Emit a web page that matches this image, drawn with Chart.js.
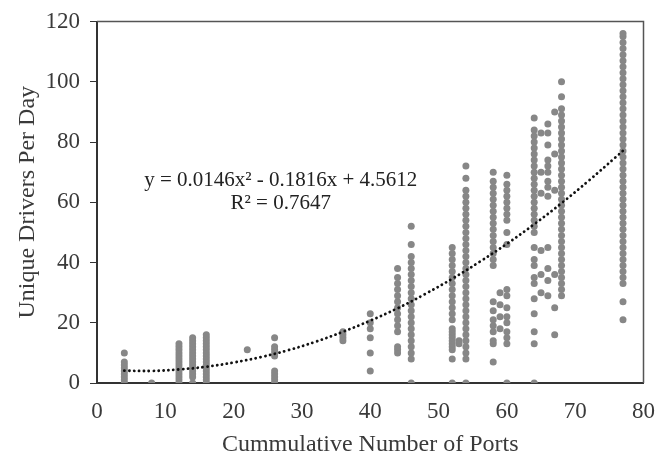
<!DOCTYPE html>
<html>
<head>
<meta charset="utf-8">
<script src="https://cdn.jsdelivr.net/npm/chart.js@4.4.1/dist/chart.umd.min.js"></script>
<style>
  html, body { margin: 0; padding: 0; background: #fff; }
  #wrap { width: 662px; height: 457px; }
</style>
</head>
<body>
<div id="wrap"><canvas id="ports"></canvas></div>
<script>
// observations per cumulative port count (unique drivers per day)
const ports4 = [0, 1, 2, 3, 4, 5, 6, 7, 10];
const ports8 = [0];
const ports12 = [0, 1, 2, 3, 4, 5, 6, 7, 8, 9, 10, 11, 12, 13];
const ports14 = [0, 2, 3, 4, 5, 6, 7, 8, 9, 10, 11, 12, 13, 14, 15];
const ports16 = [0, 1, 2, 3, 4, 5, 6, 7, 8, 9, 10, 11, 12, 13, 14, 15, 16];
const ports22 = [11];
const ports26 = [0, 1, 2, 3, 4, 9, 10, 11, 12, 15];
const ports36 = [14, 15, 16, 17];
const ports40 = [4, 10, 15, 18, 20, 23];
const ports44 = [10, 11, 12, 17, 19, 21, 23, 25, 27, 29, 31, 33, 35, 38];
const ports46 = [0, 8, 10, 12, 14, 16, 18, 20, 22, 24, 26, 28, 30, 32, 34, 36, 38, 40, 42, 46, 52];
const ports52 = [0, 8, 11, 12, 13, 14, 15, 16, 17, 18, 21, 23, 25, 27, 29, 31, 33, 35, 37, 39, 41, 43, 45];
const ports53 = [13, 14];
const ports54 = [0, 8, 10, 12, 14, 16, 18, 20, 22, 24, 26, 28, 30, 32, 34, 36, 38, 40, 42, 44, 46, 48, 50, 52, 54, 56, 58, 60, 62, 64, 68, 72];
const ports58 = [7, 13, 14, 17, 19, 21, 24, 27, 39, 41, 43, 45, 47, 49, 51, 53, 55, 57, 59, 61, 63, 65, 67, 70];
const ports59 = [18, 22, 26, 30];
const ports60 = [0, 13, 15, 17, 20, 22, 25, 29, 31, 46, 50, 54, 56, 58, 60, 62, 64, 66, 69];
const ports64 = [0, 13, 17, 23, 28, 33, 35, 39, 41, 45, 50, 52, 54, 56, 58, 60, 62, 64, 66, 68, 70, 72, 74, 76, 78, 80, 82, 84, 88];
const ports65 = [30, 36, 44, 63, 70, 83];
const ports66 = [29, 34, 38, 45, 62, 65, 67, 70, 72, 74, 79, 83, 86];
const ports67 = [16, 25, 36, 64, 76, 90];
const ports68 = [29, 31, 33, 35, 37, 39, 41, 43, 45, 47, 49, 51, 53, 55, 57, 59, 61, 63, 65, 67, 69, 71, 73, 75, 77, 79, 81, 83, 85, 87, 89, 91, 95, 100];
const ports77 = [21, 27, 33, 35, 37, 39, 41, 43, 45, 47, 49, 51, 53, 55, 57, 59, 61, 63, 65, 67, 69, 71, 73, 75, 77, 79, 81, 83, 85, 87, 89, 91, 93, 95, 97, 99, 101, 103, 105, 107, 109, 111, 113, 115, 116];

const portColumns = [
  [4, ports4], [8, ports8], [12, ports12], [14, ports14], [16, ports16],
  [22, ports22], [26, ports26], [36, ports36], [40, ports40], [44, ports44],
  [46, ports46], [52, ports52], [53, ports53], [54, ports54], [58, ports58],
  [59, ports59], [60, ports60], [64, ports64], [65, ports65], [66, ports66],
  [67, ports67], [68, ports68], [77, ports77]
];

// dotted trend curve
const trendX = [4, 8, 12, 16, 20, 24, 28, 32, 36, 40, 44, 48, 52, 56, 60, 64, 68, 72, 76, 77];
const trendY = [4.1, 4.0, 4.5, 5.4, 6.8, 8.6, 10.9, 13.7, 17.0, 20.7, 24.8, 29.5, 34.6, 40.2, 46.2, 52.7, 59.7, 67.2, 75.1, 77.1];

const xTicks = [0, 10, 20, 30, 40, 50, 60, 70, 80];
const yTicks = [0, 20, 40, 60, 80, 100, 120];

const eqLine = 'y = 0.0146x\u00B2 - 0.1816x + 4.5612';
const r2Line = 'R\u00B2 = 0.7647';

const serif = '"Liberation Serif", "DejaVu Serif", serif';
const inkColor = '#3a3a3a';

const points = [];
portColumns.forEach(col => col[1].forEach(v => points.push({ x: col[0], y: v })));
const trend = trendX.map((x, i) => ({ x: x, y: trendY[i] }));

const frame = {
  id: 'frame',
  afterDatasetsDraw(chart) {
    const a = chart.chartArea;
    const ctx = chart.ctx;
    ctx.save();
    ctx.strokeStyle = '#555';
    ctx.lineWidth = 1.5;
    ctx.beginPath();
    ctx.moveTo(a.left, a.top);
    ctx.lineTo(a.right, a.top);
    ctx.lineTo(a.right, a.bottom);
    ctx.stroke();
    // equation label
    const sx = chart.scales.x, sy = chart.scales.y;
    ctx.fillStyle = '#222';
    ctx.font = '21px ' + serif;
    ctx.textAlign = 'center';
    ctx.textBaseline = 'middle';
    ctx.fillText(eqLine, sx.getPixelForValue(26.9), sy.getPixelForValue(67.2));
    ctx.fillText(r2Line, sx.getPixelForValue(26.9), sy.getPixelForValue(59.6));
    ctx.restore();
  }
};

new Chart(document.getElementById('ports'), {
  type: 'scatter',
  data: {
    datasets: [
      {
        label: 'trend',
        data: trend,
        showLine: true,
        borderColor: '#111',
        borderWidth: 2.8,
        borderDash: [0.1, 4.8],
        borderCapStyle: 'round',
        pointRadius: 0,
        tension: 0.4,
        order: 0
      },
      {
        label: 'drivers',
        data: points,
        backgroundColor: '#878787',
        borderWidth: 0,
        pointRadius: 3.5,
        order: 1
      }
    ]
  },
  options: {
    responsive: true,
    maintainAspectRatio: false,
    animation: false,
    layout: { padding: { left: 12, right: 14, top: 20, bottom: 0 } },
    plugins: {
      legend: { display: false },
      tooltip: { enabled: false }
    },
    scales: {
      x: {
        type: 'linear',
        min: 0,
        max: 80,
        afterBuildTicks: s => { s.ticks = xTicks.map(v => ({ value: v })); },
        afterFit: s => { s.height = 74; },
        grid: { display: true, drawOnChartArea: false, tickLength: 8, tickColor: 'rgba(0,0,0,0)' },
        border: { color: '#333', width: 2 },
        ticks: { color: inkColor, font: { family: serif, size: 23 }, padding: 7, maxRotation: 0 },
        title: { display: true, text: 'Cummulative Number of Ports', color: inkColor, font: { family: serif, size: 24, lineHeight: 1 }, padding: { top: 2, bottom: 0 } }
      },
      y: {
        min: 0,
        max: 120,
        afterBuildTicks: s => { s.ticks = yTicks.map(v => ({ value: v })); },
        afterFit: s => { s.width = 85; },
        grid: { display: true, drawOnChartArea: false, tickLength: 7, color: '#333' },
        border: { color: '#333', width: 2 },
        ticks: { color: inkColor, font: { family: serif, size: 23, lineHeight: 1 }, padding: 10 },
        title: { display: true, text: 'Unique Drivers Per Day', color: inkColor, font: { family: serif, size: 24, lineHeight: 1 }, padding: { top: 4, bottom: 0 } }
      }
    }
  },
  plugins: [frame]
});
</script>
</body>
</html>
